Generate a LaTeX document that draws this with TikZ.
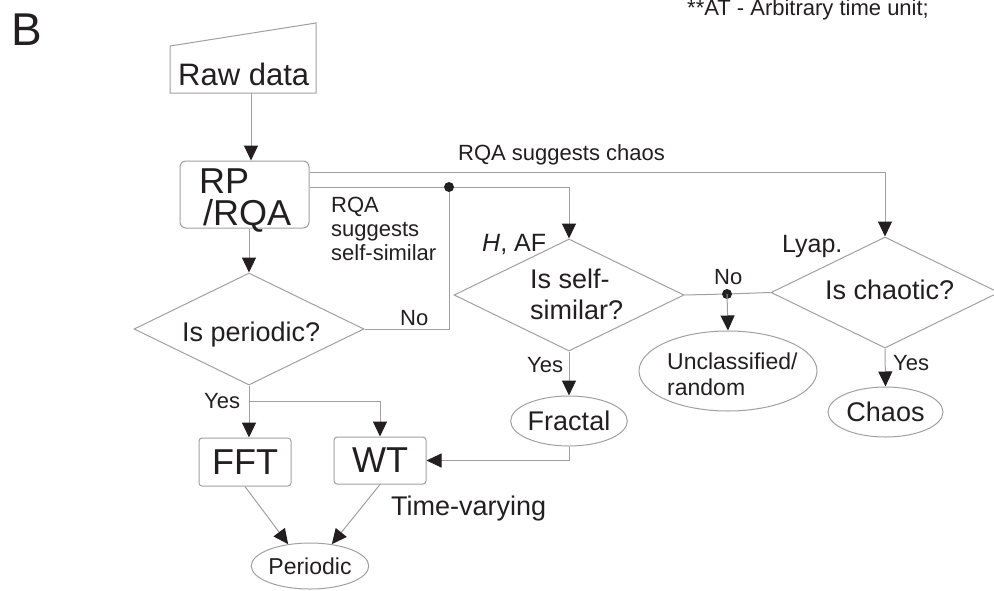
\documentclass[tikz,border=0pt]{standalone}
\usepackage{fontspec}
\setmainfont{Liberation Sans}
\usetikzlibrary{shapes.geometric,arrows.meta}
\definecolor{ln}{HTML}{A0A0A0}
\definecolor{tx}{HTML}{231F20}
\newcommand{\fsz}[1]{\fontsize{#1}{#1}\selectfont}
\begin{document}
\begin{tikzpicture}[x=1pt,y=-1pt,
  every node/.style={text=tx},
  line/.style={draw=ln, line width=1pt},
  arr/.style={draw=ln, line width=1pt, -{Triangle[width=14pt,length=15pt,color=tx]}},
  box/.style={rectangle, draw=ln, line width=1pt, rounded corners=3pt, inner sep=0pt},
  dia/.style={diamond, draw=ln, line width=1pt, inner sep=0pt, minimum width=230pt, minimum height=112pt},
  ell/.style={ellipse, draw=ln, line width=1pt, inner sep=0pt},
  lbl/.style={anchor=base west, inner sep=0pt, text=tx}
]
\useasboundingbox (0,0) rectangle (994,590);

% titles
\node[lbl, font=\fsz{46}] (title) at (11,45) {B};
\node[lbl, font=\fsz{22}] (note) at (687,15) {**AT - Arbitrary time unit;};

% raw data (manual input shape)
\draw[line] (170,46) -- (316,23) -- (316,93) -- (170,93) -- cycle;
\node[inner sep=0pt, minimum width=10pt, minimum height=70pt] (raw) at (251,58) {};
\node[lbl, font=\fsz{31}] (rawt) at (178,85) {Raw data};

% RP/RQA
\node[box, rounded corners=6pt, minimum width=129pt, minimum height=67pt] (rp) at (244.5,194.5) {};
\node[lbl, font=\fsz{36}] (rpt1) at (199,193) {RP};
\node[lbl, font=\fsz{36}] (rpt2) at (203,225) {/RQA};

% decisions
\node[dia] (periodic) at (249,329) {};
\node[lbl, font=\fsz{27}] (periodict) at (182,341) {Is periodic?};
\node[dia] (selfsim) at (569,295) {};
\node[lbl, font=\fsz{27}] (selfsimt1) at (530,288) {Is self-};
\node[lbl, font=\fsz{27}] (selfsimt2) at (530,319) {similar?};
\node[dia, minimum width=228pt, minimum height=111pt] (chaotic) at (885,292.5) {};
\node[lbl, font=\fsz{27}] (chaotict) at (825,299) {Is chaotic?};

% boxes
\node[box, minimum width=92pt, minimum height=48pt, font=\fsz{36}] (fft) at (245,462) {FFT};
\node[box, minimum width=92pt, minimum height=47pt, font=\fsz{36}] (wt) at (380,460.5) {WT};

% ellipses
\node[ell, minimum width=114pt, minimum height=50pt, font=\fsz{27}] (fractal) at (569,421) {Fractal};
\node[ell, minimum width=178pt, minimum height=80pt] (unclass) at (728,371) {};
\node[lbl, font=\fsz{23}] (unclasst1) at (667,369) {Unclassified/};
\node[lbl, font=\fsz{23}] (unclasst2) at (667,395) {random};
\node[ell, minimum width=115pt, minimum height=50pt, font=\fsz{27}] (chaos) at (885.5,412) {Chaos};
\node[ell, minimum width=115pt, minimum height=46pt, font=\fsz{23}] (per) at (310,566) {Periodic};

% labels
\node[lbl, font=\fsz{22}] (chaoslbl) at (458,160) {RQA suggests chaos};
\node[lbl, font=\fsz{22}] (sslbl1) at (331,212) {RQA};
\node[lbl, font=\fsz{22}] (sslbl2) at (331,236) {suggests};
\node[lbl, font=\fsz{22}] (sslbl3) at (331,260) {self-similar};
\node[lbl, font=\fsz{25}] (haf) at (482,251) {\textit{H}, AF};
\node[lbl, font=\fsz{25}] (lyap) at (782,252) {Lyap.};
\node[lbl, font=\fsz{22}] (no1) at (400,325) {No};
\node[lbl, font=\fsz{22}] (no2) at (714,284) {No};
\node[lbl, font=\fsz{22}] (yes1) at (204,408) {Yes};
\node[lbl, font=\fsz{22}] (yes2) at (527,372) {Yes};
\node[lbl, font=\fsz{22}] (yes3) at (893,370) {Yes};
\node[lbl, font=\fsz{27}] (tv) at (391,515) {Time-varying};

% junction coordinates
\coordinate (c1) at (885,172);
\coordinate (dot) at (449,187);
\coordinate (yesb) at (249,401);
\coordinate (dot2) at (727,294);

% connectors
\draw[arr] (raw.south) -- (raw.south |- rp.north);
\draw[arr] (rp.north east |- c1) -- (c1) -- (chaotic.north);
\draw[line] (rp.north east |- dot) -- (dot);
\draw[arr] (dot) -- (dot -| selfsim.north) -- (selfsim.north);
\draw[line] (dot) -- (dot |- periodic.east) -- (periodic.east);
\fill[tx] (dot) circle (5);
\draw[arr] (periodic.north |- rp.south) -- (periodic.north);
\draw[arr] (periodic.south) -- (periodic.south |- fft.north);
\draw[arr] (yesb) -- (yesb -| wt.north) -- (wt.north);
\draw[arr] (fractal.south) -- (fractal.south |- wt.east) -- (wt.east);
\draw[arr] (fft.south) -- (per.135);
\draw[arr] (wt.south) -- (per.45);
\draw[arr] (selfsim.south) -- (fractal.north);
\draw[line] (selfsim.east) -- (dot2) -- (chaotic.west);
\fill[tx] (dot2) circle (5);
\draw[arr] (dot2) -- (unclass.north);
\draw[arr] (chaotic.south) -- (chaos.north);
\end{tikzpicture}
\end{document}
